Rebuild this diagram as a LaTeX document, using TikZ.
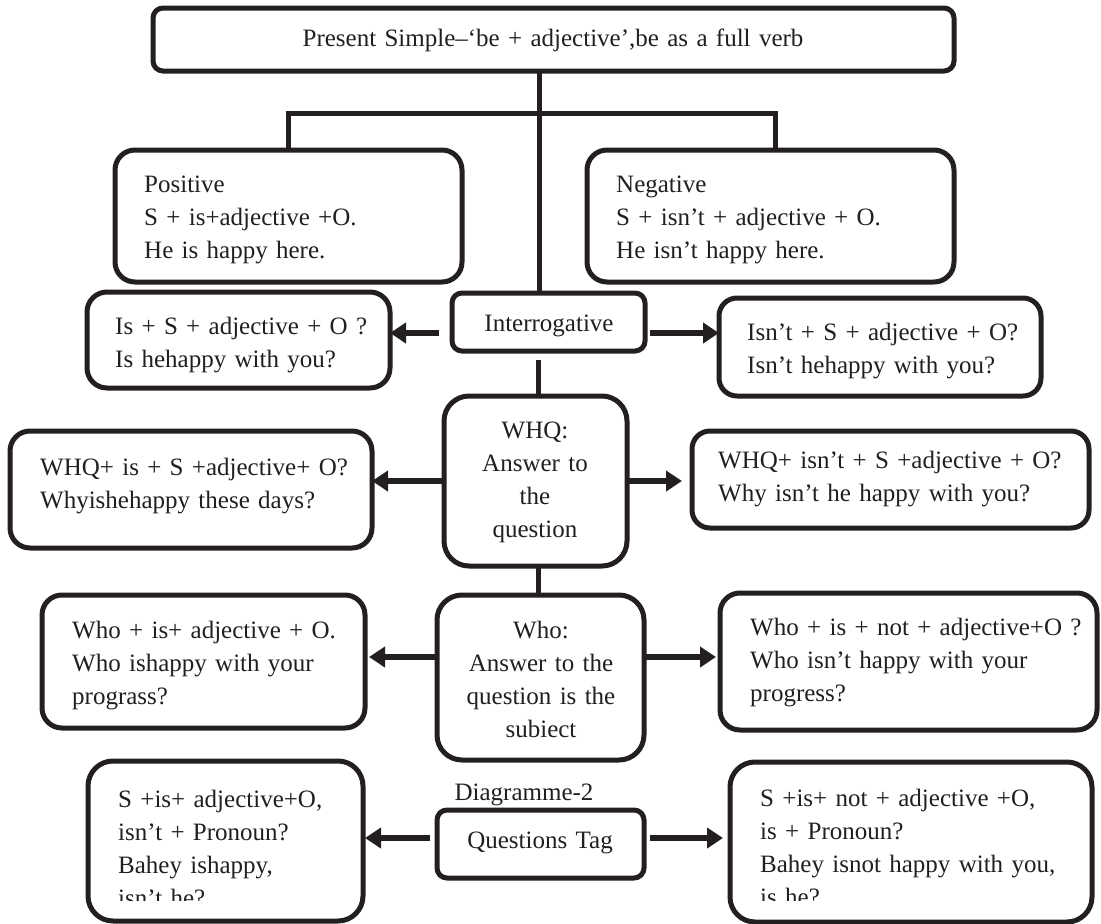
\documentclass[tikz,border=0pt]{standalone}
\usepackage{fontspec}
\setmainfont{Liberation Serif}
\usetikzlibrary{arrows.meta}
\definecolor{ink}{HTML}{231F20}
\newcommand{\diagfont}{\fontsize{25}{33}\selectfont\spaceskip=0.2em\relax}
\begin{document}
\begin{tikzpicture}[x=1pt,y=-1pt,
  box/.style={draw=ink, line width=5pt, rounded corners=#1, inner sep=0pt, outer sep=0pt, fill=white},
  conn/.style={draw=ink, line width=5pt},
  arr/.style={draw=ink, line width=6.5pt, -{Triangle[length=16pt,width=20pt]}},
  lt/.style={text=ink, font=\diagfont, inner sep=0pt, text width=380pt, align=left, anchor=base west},
  ct/.style={text=ink, font=\diagfont, inner sep=0pt, text width=300pt, align=center, anchor=base}
]
\useasboundingbox (0,0) rectangle (1101,924);

% boxes
\node[box=10pt, minimum width=801pt, minimum height=63pt] (top) at (553.5,39.5) {};
\node[box=20pt, minimum width=347pt, minimum height=132pt] (pos) at (288.5,216) {};
\node[box=20pt, minimum width=367pt, minimum height=132pt] (neg) at (770.5,216) {};
\node[box=10pt, minimum width=193pt, minimum height=58pt] (interr) at (548.5,322) {};
\node[box=20pt, minimum width=303pt, minimum height=96pt] (intL) at (238.5,340) {};
\node[box=18pt, minimum width=322pt, minimum height=98pt] (intR) at (880,347) {};
\node[box=25pt, minimum width=183pt, minimum height=170pt] (whq) at (535.5,481) {};
\node[box=20pt, minimum width=362pt, minimum height=117pt] (whqL) at (191,489.5) {};
\node[box=18pt, minimum width=397pt, minimum height=97pt] (whqR) at (890.5,479.5) {};
\node[box=25pt, minimum width=207pt, minimum height=165pt] (who) at (540.5,677.5) {};
\node[box=20pt, minimum width=323pt, minimum height=133pt] (whoL) at (203.5,661.5) {};
\node[box=20pt, minimum width=377pt, minimum height=137pt] (whoR) at (908.5,661.5) {};
\node[box=10pt, minimum width=207pt, minimum height=68pt] (qt) at (540.5,844) {};
\node[box=25pt, minimum width=275pt, minimum height=160pt] (tagL) at (225.5,841) {};
\node[box=25pt, minimum width=362pt, minimum height=160pt] (tagR) at (911,842) {};

% texts
\node[ct, text width=800pt] (topT) at (553,46) {Present Simple–‘be + adjective’,be as a full verb};
\node[lt] (posT) at (144,192) {Positive\\S + is+adjective +O.\\He is happy here.};
\node[lt] (negT) at (616,192) {Negative\\S + isn’t + adjective + O.\\He isn’t happy here.};
\node[ct] (interrT) at (549,331) {Interrogative};
\node[lt] (intLT) at (115,334) {Is + S + adjective + O ?\\Is hehappy with you?};
\node[lt] (intRT) at (747,340) {Isn’t + S + adjective + O?\\Isn’t hehappy with you?};
\node[ct] (whqT) at (535,438) {WHQ:\\Answer to\\the\\question};
\node[lt] (whqLT) at (40,475) {WHQ+ is + S +adjective+ O?\\Whyishehappy these days?};
\node[lt] (whqRT) at (718,468) {WHQ+ isn’t + S +adjective + O?\\Why isn’t he happy with you?};
\node[ct] (whoT) at (541,638) {Who:\\Answer to the\\question is the\\subiect};
\node[lt] (whoLT) at (72,638) {Who + is+ adjective + O.\\Who ishappy with your\\prograss?};
\node[lt] (whoRT) at (750,635) {Who + is + not + adjective+O ?\\Who isn’t happy with your\\progress?};
\node[ct] (dgT) at (524,800) {Diagramme-2};
\node[ct] (qtT) at (540,848) {Questions Tag};
\begin{scope}
  \clip (88,761) rectangle (363,900);
  \node[lt] (tagLT) at (118,807) {S +is+ adjective+O,\\isn’t + Pronoun?\\Bahey ishappy,\\isn’t he?};
\end{scope}
\begin{scope}
  \clip (730,762) rectangle (1092,900);
  \node[lt] (tagRT) at (760,806) {S +is+ not + adjective +O,\\is + Pronoun?\\Bahey isnot happy with you,\\is he?};
\end{scope}

% helper coordinates
\coordinate (bj) at (539,113);
\coordinate (colA) at (538,0);
\coordinate (rowI) at (0,333);
\coordinate (rowW) at (0,481);
\coordinate (rowO) at (0,657);
\coordinate (rowQ) at (0,838);

% connectors
\draw[conn] (top.south -| bj) -- (interr.north -| bj);
\draw[conn] (pos.north) |- (bj) -| ([xshift=4.5pt]neg.north);
\draw[conn, shorten <=9pt] (interr.south -| colA) -- (whq.north -| colA);
\draw[conn] (whq.south -| colA) -- (who.north -| colA);

% arrows
\draw[arr, shorten <=13pt] (interr.west |- rowI) -- (intL.east |- rowI);
\draw[arr, shorten <=5pt] (interr.east |- rowI) -- (intR.west |- rowI);
\draw[arr] (whq.west |- rowW) -- (whqL.east |- rowW);
\draw[arr, shorten >=10pt] (whq.east |- rowW) -- (whqR.west |- rowW);
\draw[arr, shorten >=4pt] (who.west |- rowO) -- (whoL.east |- rowO);
\draw[arr, shorten >=4pt] (who.east |- rowO) -- (whoR.west |- rowO);
\draw[arr, shorten <=7pt, shorten >=2pt] (qt.west |- rowQ) -- (tagL.east |- rowQ);
\draw[arr, shorten <=6pt, shorten >=7pt] (qt.east |- rowQ) -- (tagR.west |- rowQ);
\end{tikzpicture}
\end{document}
